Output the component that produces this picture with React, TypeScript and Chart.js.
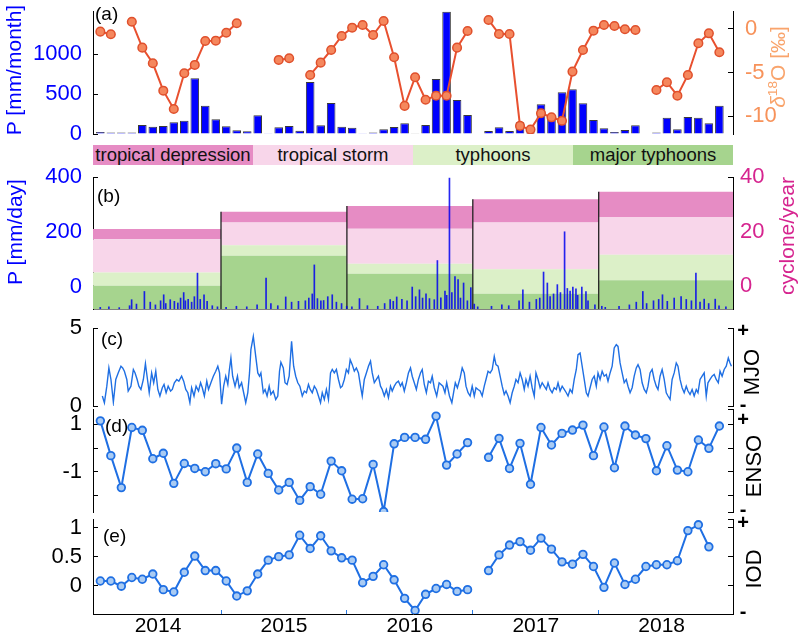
import { useEffect, useRef } from "react";
import { Chart, registerables } from "chart.js";

Chart.register(...registerables);

const FONT = "'Liberation Sans', Arial, Helvetica, sans-serif";
Chart.defaults.font.family = FONT;

// x axis in months since 1 Jan 2014
const X_MIN = -0.2;
const X_MAX = 60.8;
const DAYS_PER_MONTH = 365.25 / 12;
const YEAR_LABELS = ["2014", "2015", "2016", "2017", "2018"];
const YEAR_STARTS = [0, 12, 24, 36, 48];
const X_TICKS = [0, 6, 12, 18, 24, 30, 36, 42, 48, 54, 60];

// (a) monthly precipitation [mm/month] and d18O [permil], Jan 2014 .. Dec 2018
const P_MONTH = [
  25, 20, 20, 20, 113, 92, 100, 146, 167, 697,
  355, 184, 96, 46, 33, 234, 10, 84, 100, 41,
  651, 109, 388, 92, 79, 10, 20, 59, 88, 134,
  8, 113, 689, 1530, 426, 238, 0, 38, 84, 38,
  146, 20, 372, 217, 522, 559, 384, 175, 71, 25,
  50, 109, 5, 20, 204, 59, 213, 204, 134, 355,
];
const D18O = [
  -0.35, -0.65, null, 0.78, -2.17, -3.95, -7.07, -9.15, -5.09, -4.14,
  -1.41, -1.38, -0.47, 0.6, null, null, null, -3.57, -3.38, null,
  -5.28, -3.88, -2.44, -0.84, 0.1, 0.41, -0.73, 0.86, -3.27, -8.8,
  -5.54, -8.1, -7.64, -7.64, -2.17, -0.28, null, 0.98, -0.62, -0.62,
  -11.08, -11.5, -9.64, -10.1, -10.5, -4.9, -2.44, -0.24, 0.41, 0.29,
  -0.08, -0.16, null, -6.99, -6.11, -7.64, -5.28, -1.67, -0.54, -2.7,
];
const P_MONTH_TICKS = [0, 500, 1000];
const D18O_TICKS = [0, -5, -10];

// (b) daily precipitation events [day, mm/day] and cyclones per year
const P_DAY = [
  [15, 6], [40, 8], [70, 5], [100, 12], [106, 34], [120, 18], [143, 64], [160, 25], [175, 15], [190, 30],
  [199, 52], [205, 20], [218, 34], [230, 28], [240, 22], [248, 40], [257, 60], [262, 30], [270, 35], [280, 25],
  [288, 45], [297, 131], [305, 35], [316, 52], [325, 28], [340, 12], [355, 8],
  [380, 6], [410, 10], [440, 8], [470, 15], [496, 113], [510, 20], [530, 12], [553, 44], [570, 25], [590, 28],
  [610, 30], [620, 40], [630, 55], [636, 161], [645, 38], [655, 30], [663, 31], [675, 45], [688, 52], [700, 25],
  [715, 20], [730, 10],
  [745, 8], [767, 38], [790, 12], [820, 10], [840, 20], [856, 34], [865, 28], [875, 44], [890, 35], [905, 30],
  [920, 82], [930, 45], [941, 70], [950, 40], [960, 55], [970, 38], [984, 34], [993, 177], [1003, 41], [1015, 65],
  [1020, 50], [1028, 478], [1035, 60], [1044, 118], [1053, 107], [1060, 40], [1069, 95], [1080, 30], [1090, 78], [1100, 18],
  [1110, 8], [1150, 10], [1180, 15], [1200, 12], [1230, 30], [1241, 70], [1260, 25], [1280, 35], [1290, 40], [1301, 135],
  [1312, 95], [1320, 45], [1330, 55], [1341, 89], [1350, 60], [1362, 282], [1370, 75], [1378, 65], [1386, 82], [1395, 74],
  [1400, 50], [1412, 82], [1424, 64], [1430, 30], [1450, 15], [1470, 10],
  [1480, 6], [1520, 10], [1550, 15], [1570, 25], [1589, 64], [1600, 20], [1620, 30], [1635, 35], [1646, 52], [1660, 28],
  [1680, 40], [1700, 45], [1715, 35], [1730, 30], [1743, 131], [1755, 25], [1767, 36], [1780, 20], [1799, 36], [1810, 12],
  [1830, 8],
];
const P_DAY_MIN = -82;
const P_DAY_MAX = 400;
const P_DAY_TICKS = [0, 200, 400];
const CYC_MIN = -8.4;
const CYC_MAX = 40;
const CYC_TICKS = [0, 20, 40];
const CYC_NAMES = ["tropical depression", "tropical storm", "typhoons", "major typhoons"];
const CYC_MAJOR = [8.5, 19.5, 12.9, 5.6, 10.5];
const CYC_TYPHOON = [4.9, 3.9, 3.7, 9.0, 9.4];
const CYC_STORM = [12.2, 8.3, 12.8, 17.1, 13.8];
const CYC_DEPRESSION = [3.7, 4.0, 8.4, 8.5, 9.3];

// (c) MJO amplitude [day, value]
const MJO = [
  [21, 0.64], [27, 0.21], [34, 1.27], [40, 2.44], [46, 1.7], [53, 0.25], [60, 1.7], [67, 2.12], [75, 2.55], [80, 2.44],
  [85, 2.23], [92, 1.7], [96, 0.96], [104, 1.27], [111, 2.34], [116, 2.12], [122, 1.7], [127, 1.27], [133, 1.06], [140, 1.7],
  [146, 2.72], [152, 1.7], [157, 0.85], [164, 2.12], [170, 1.49], [176, 2.23], [182, 1.06], [188, 0.64], [195, 1.17], [200, 1.38],
  [206, 0.85], [212, 1.27], [219, 0.96], [224, 1.06], [230, 1.49], [237, 1.7], [243, 1.59], [251, 1.91], [257, 1.59], [263, 1.06],
  [269, 0.85], [275, 0.21], [280, 1.17], [287, 0.64], [293, 1.27], [300, 0.96], [306, 1.49], [311, 1.17], [317, 0.64], [324, 1.59],
  [329, 1.06], [336, 1.49], [343, 1.91], [350, 2.23], [356, 2.55], [361, 2.12], [367, 0.11], [373, 1.27], [379, 1.91], [385, 1.38],
  [389, 2.23], [394, 3.08], [399, 1.91], [406, 1.27], [413, 1.91], [418, 1.17], [425, 1.49], [431, 0.85], [437, 0.21], [443, 0.85],
  [448, 2.12], [452, 3.61], [459, 4.46], [466, 3.18], [472, 2.12], [477, 1.91], [481, 2.12], [488, 0.85], [493, 1.06], [499, 0.64],
  [505, 1.27], [510, 0.74], [517, 0.96], [524, 0.42], [530, 0.64], [535, 2.23], [539, 2.8], [546, 2.44], [551, 1.49], [557, 1.38],
  [563, 1.91], [570, 4.14], [576, 2.55], [582, 1.91], [588, 1.49], [594, 1.27], [601, 0.64], [607, 0.96], [613, 0.85], [619, 1.38],
  [624, 1.06], [630, 0.85], [636, 1.27], [642, 1.06], [648, 0.64], [654, 0.21], [659, 0.85], [665, 0.42], [671, 1.06], [677, 0.42],
  [683, 2.12], [688, 2.34], [694, 2.12], [700, 2.34], [706, 1.7], [712, 1.17], [717, 1.27], [723, 1.7], [729, 2.34], [735, 2.12],
  [740, 2.97], [746, 2.65], [752, 2.23], [758, 2.44], [764, 2.12], [770, 1.27], [775, 0.64], [781, 1.7], [787, 2.12], [793, 2.55],
  [799, 2.87], [804, 2.12], [810, 1.49], [816, 1.7], [822, 1.91], [828, 1.27], [833, 1.06], [839, 0.64], [845, 1.06], [851, 0.53],
  [857, 1.27], [862, 0.96], [868, 1.27], [874, 1.49], [880, 1.59], [886, 1.27], [891, 1.49], [897, 0.96], [903, 1.49], [909, 2.12],
  [915, 2.44], [920, 1.91], [926, 1.49], [932, 1.06], [938, 1.7], [944, 2.12], [949, 2.34], [955, 1.38], [961, 0.85], [967, 1.59],
  [973, 1.49], [978, 1.91], [984, 1.17], [991, 0.64], [998, 1.49], [1009, 1.27], [1015, 0.85], [1020, 1.49], [1028, 0.64], [1035, 0.21],
  [1040, 0.85], [1045, 1.49], [1051, 1.17], [1059, 1.8], [1065, 2.44], [1071, 2.12], [1076, 1.27], [1082, 0.85], [1088, 0.64], [1094, 1.27],
  [1100, 0.64], [1105, 1.17], [1111, 1.06], [1117, 0.96], [1123, 0.64], [1129, 1.27], [1134, 1.7], [1140, 2.23], [1146, 2.12], [1152, 2.34],
  [1158, 3.18], [1163, 2.65], [1169, 2.55], [1175, 1.91], [1181, 1.27], [1187, 0.74], [1192, 0.96], [1198, 0.64], [1204, 0.21], [1210, 0.85],
  [1216, 1.27], [1221, 1.7], [1227, 1.49], [1233, 2.12], [1239, 1.7], [1245, 1.06], [1250, 1.7], [1256, 1.27], [1262, 1.91], [1268, 1.17],
  [1274, 0.64], [1279, 2.12], [1285, 1.7], [1291, 1.17], [1297, 1.49], [1303, 1.27], [1309, 1.06], [1314, 1.49], [1320, 1.06], [1326, 0.85],
  [1332, 1.17], [1338, 1.06], [1343, 1.49], [1349, 0.96], [1355, 1.27], [1361, 1.06], [1367, 0.85], [1372, 0.64], [1378, 1.06], [1384, 0.85],
  [1390, 1.7], [1396, 2.34], [1401, 3.29], [1407, 3.4], [1413, 2.55], [1419, 1.7], [1425, 0.85], [1430, 0.64], [1436, 1.17], [1442, 1.7],
  [1448, 1.91], [1454, 1.27], [1459, 2.12], [1465, 1.7], [1471, 2.23], [1477, 1.91], [1483, 2.02], [1488, 1.59], [1494, 2.12], [1500, 2.55],
  [1506, 3.72], [1512, 3.93], [1517, 3.82], [1523, 2.76], [1529, 2.12], [1535, 1.49], [1541, 1.7], [1546, 1.27], [1552, 0.85], [1558, 1.17],
  [1564, 1.91], [1570, 2.44], [1575, 2.65], [1581, 2.34], [1587, 1.49], [1593, 1.06], [1599, 0.85], [1604, 1.27], [1610, 2.12], [1616, 2.34],
  [1622, 1.7], [1628, 1.27], [1633, 1.06], [1639, 1.91], [1645, 2.34], [1651, 1.7], [1657, 0.85], [1662, 0.64], [1668, 0.42], [1674, 1.7],
  [1680, 2.12], [1686, 2.76], [1691, 2.55], [1697, 1.7], [1703, 1.17], [1709, 0.85], [1715, 1.27], [1720, 0.96], [1726, 0.74], [1732, 1.06],
  [1738, 0.64], [1744, 1.06], [1749, 0.85], [1755, 1.7], [1761, 1.91], [1767, 2.12], [1773, 0.64], [1778, 1.49], [1784, 1.7], [1790, 1.91],
  [1796, 2.02], [1802, 1.7], [1808, 1.49], [1813, 2.23], [1819, 1.91], [1825, 2.34], [1831, 2.55], [1837, 3.08], [1842, 2.76], [1846, 2.55],
];
const MJO_TICKS = [0, 5];

// (d) ENSO and (e) IOD, monthly from Jan 2014
const ENSO = [
  1.15, -0.32, -1.67, 0.87, 0.75, -0.45, -0.22, -1.49, -0.65, -0.86,
  -1.0, -0.66, -0.88, 0.0, -1.45, -0.25, -1.07, -1.77, -1.45, -2.21,
  -1.63, -1.95, -0.55, -0.96, -2.16, -2.14, -0.69, -2.68, 0.18, 0.45,
  0.45, 0.37, 1.35, -0.72, -0.25, 0.23, null, -0.39, 0.41, -0.86,
  0.2, -1.53, 0.87, 0.13, 0.62, 0.76, 0.97, -0.32, 0.89, -0.83,
  0.93, 0.55, 0.4, -0.96, 0.1, -0.93, -1.0, 0.34, -0.01, 0.93,
];
const ENSO_TICKS = [1, 0, -1, -2];
const ENSO_LABELED = [1, -1];
const IOD = [
  0.08, 0.08, -0.01, 0.14, 0.11, 0.2, -0.07, -0.11, 0.23, 0.51,
  0.26, 0.26, 0.08, -0.18, -0.09, 0.2, 0.44, 0.5, 0.53, 0.87,
  0.64, 0.86, 0.6, 0.48, 0.44, 0.05, 0.16, 0.36, 0.1, -0.22,
  -0.43, -0.15, -0.05, 0.02, -0.1, -0.07, null, 0.26, 0.53, 0.7,
  0.76, 0.61, 0.82, 0.63, 0.41, 0.37, 0.54, 0.33, -0.03, 0.39,
  0.02, 0.11, 0.33, 0.36, 0.36, 0.43, 0.95, 1.05, 0.67,
];
const IOD_TICKS = [1, 0.5, 0];

const W = 800;
const PLOT_L = 93;
const PLOT_R = 733;
const PAD = 32; // room above/below each plot area for the tick labels

const BLUE = "#0000ff";
const ORANGE = "#f7925a";
const MAGENTA = "#d6248f";
const LINE_BLUE = "#1f6fe3";
const CYC_COLORS = ["#e68cc4", "#f8d6ea", "#dcf0c8", "#a6d48e"];

const monthly = (vals: (number | null)[]) => vals.map((v, i) => ({ x: i + 0.5, y: v }));

function yAxis(o: {
  position: "left" | "right";
  min: number;
  max: number;
  ticks: number[];
  color?: string;
  padding?: number;
  label?: (v: number) => string;
}) {
  const left = o.position === "left";
  return {
    type: "linear",
    position: o.position,
    min: o.min,
    max: o.max,
    afterFit: (s: any) => {
      s.width = left ? PLOT_L : W - PLOT_R;
    },
    afterBuildTicks: (s: any) => {
      s.ticks = o.ticks.map((value) => ({ value }));
    },
    border: { color: "#000", width: 1 },
    grid: { drawOnChartArea: false, drawTicks: true, tickLength: -5, color: "#000" },
    ticks: {
      color: o.color ?? "#000",
      font: { size: 22 },
      padding: o.padding ?? (left ? 16 : 17),
      autoSkip: false,
      callback: o.label ?? ((v: number) => String(v)),
    },
  };
}

// right-hand axis of panels (c)-(e): tick marks only, "+ / -" are drawn as text
const markAxis = (min: number, max: number, ticks: number[]) =>
  yAxis({ position: "right", min, max, ticks: [max, ...ticks, min], label: () => "" });

const hiddenX = { type: "linear", min: X_MIN, max: X_MAX, offset: false, display: false };

const baseOptions = (padTop: number, padBottom: number) => ({
  responsive: true,
  maintainAspectRatio: false,
  animation: false,
  events: [],
  layout: { padding: { top: padTop, bottom: padBottom, left: 0, right: 0 } },
  plugins: { legend: { display: false }, tooltip: { enabled: false } },
});

function makeA() {
  return {
    type: "bar",
    data: {
      datasets: [
        {
          type: "line",
          data: monthly(D18O),
          yAxisID: "yR",
          borderColor: "#e8502f",
          borderWidth: 2,
          pointRadius: 4.3,
          pointBackgroundColor: "#f5875d",
          pointBorderColor: "#e0502c",
          pointBorderWidth: 1.5,
          spanGaps: false,
        },
        {
          type: "bar",
          data: monthly(P_MONTH),
          yAxisID: "y",
          backgroundColor: BLUE,
          borderColor: "#3a3a3a",
          borderWidth: 1,
          barPercentage: 0.82,
          categoryPercentage: 1,
        },
      ],
    },
    options: {
      ...baseOptions(PAD, PAD),
      scales: {
        x: { ...hiddenX, afterBuildTicks: (s: any) => { s.ticks = [0, 12, 24, 36, 48, 60].map((value) => ({ value })); } },
        y: yAxis({ position: "left", min: 0, max: 1540, ticks: P_MONTH_TICKS, color: BLUE }),
        yR: yAxis({ position: "right", min: -12, max: 2, ticks: D18O_TICKS, color: ORANGE }),
      },
    },
  };
}

function makeB() {
  const layers = [CYC_MAJOR, CYC_TYPHOON, CYC_STORM, CYC_DEPRESSION];
  const tops: number[][] = [];
  layers.forEach((layer, k) => {
    tops.push(layer.map((v, i) => (k === 0 ? CYC_MIN : tops[k - 1][i]) + v));
  });
  const stepData = (levels: number[]) => [
    ...YEAR_STARTS.map((s, i) => ({ x: i === 0 ? X_MIN : s, y: levels[i] })),
    { x: X_MAX, y: levels[levels.length - 1] },
  ];
  const total = tops[tops.length - 1];
  const edges: any[] = [];
  YEAR_STARTS.forEach((s, k) => {
    if (k === 0) return;
    edges.push({ x: s, y: CYC_MIN }, { x: s, y: Math.max(total[k - 1], total[k]) }, { x: s, y: null });
  });
  const fillColors = [CYC_COLORS[3], CYC_COLORS[2], CYC_COLORS[1], CYC_COLORS[0]];
  return {
    type: "bar",
    data: {
      datasets: [
        {
          type: "bar",
          data: P_DAY.map(([d, mm]) => ({ x: d / DAYS_PER_MONTH, y: [P_DAY_MIN, P_DAY_MIN + mm] })),
          yAxisID: "y",
          backgroundColor: "rgba(0,0,240,0.85)",
          barThickness: 1,
          borderWidth: 0,
        },
        {
          type: "line",
          data: edges,
          yAxisID: "yR",
          borderColor: "#222",
          borderWidth: 1.3,
          pointRadius: 0,
          spanGaps: false,
        },
        ...tops.map((levels, k) => ({
          type: "line",
          data: stepData(levels),
          yAxisID: "yR",
          stepped: true,
          fill: k === 0 ? "start" : "-1",
          backgroundColor: fillColors[k],
          borderColor: "transparent",
          borderWidth: 0,
          pointRadius: 0,
        })),
      ],
    },
    options: {
      ...baseOptions(PAD, PAD),
      scales: {
        x: {
          type: "linear",
          min: X_MIN,
          max: X_MAX,
          offset: false,
          afterFit: (s: any) => {
            s.height = 0;
          },
          ticks: { display: false },
          grid: { display: false },
          border: { color: "#808080", width: 1 },
        },
        y: yAxis({ position: "left", min: P_DAY_MIN, max: P_DAY_MAX, ticks: P_DAY_TICKS, color: BLUE }),
        yR: yAxis({ position: "right", min: CYC_MIN, max: CYC_MAX, ticks: CYC_TICKS, color: MAGENTA, padding: 12 }),
      },
    },
  };
}

function makeC() {
  return {
    type: "line",
    data: {
      datasets: [
        {
          data: MJO.map(([d, v]) => ({ x: d / DAYS_PER_MONTH, y: v })),
          borderColor: LINE_BLUE,
          borderWidth: 1.4,
          pointRadius: 0,
        },
      ],
    },
    options: {
      ...baseOptions(PAD, PAD),
      scales: {
        x: hiddenX,
        y: yAxis({ position: "left", min: 0, max: 5, ticks: MJO_TICKS }),
        yR: markAxis(0, 5, []),
      },
    },
  };
}

const markerLine = (vals: (number | null)[]) => ({
  data: monthly(vals),
  borderColor: LINE_BLUE,
  borderWidth: 2,
  pointRadius: 3.8,
  pointBackgroundColor: "#a9cbf3",
  pointBorderColor: LINE_BLUE,
  pointBorderWidth: 1.8,
  spanGaps: false,
});

function makeD() {
  return {
    type: "line",
    data: { datasets: [markerLine(ENSO)] },
    options: {
      ...baseOptions(PAD, PAD),
      scales: {
        x: hiddenX,
        y: yAxis({
          position: "left",
          min: -2.7,
          max: 1.65,
          ticks: ENSO_TICKS,
          label: (v) => (ENSO_LABELED.includes(v) ? String(v) : ""),
        }),
        yR: markAxis(-2.7, 1.65, ENSO_TICKS),
      },
    },
  };
}

function makeE() {
  return {
    type: "line",
    data: { datasets: [markerLine(IOD)] },
    options: {
      ...baseOptions(PAD, 3),
      scales: {
        x: {
          type: "linear",
          min: X_MIN,
          max: X_MAX,
          offset: false,
          afterBuildTicks: (s: any) => {
            s.ticks = X_TICKS.map((value) => ({ value }));
          },
          afterFit: (s: any) => {
            s.height = 29;
          },
          border: { color: "#000", width: 1 },
          grid: {
            drawOnChartArea: false,
            drawTicks: true,
            tickLength: -4,
            color: (ctx: any) => {
              const v = ctx.tick ? ctx.tick.value : 0;
              return v % 12 === 0 && v > 0 && v < 60 ? "#2a7be4" : "transparent";
            },
          },
          ticks: {
            color: "#000",
            font: { size: 21 },
            padding: 4,
            autoSkip: false,
            maxRotation: 0,
            callback: (v: number) => (v % 12 === 6 ? YEAR_LABELS[(v - 6) / 12] : ""),
          },
        },
        y: yAxis({ position: "left", min: -0.49, max: 1.15, ticks: IOD_TICKS }),
        yR: markAxis(-0.49, 1.15, IOD_TICKS),
      },
    },
  };
}

function Panel({ top, height, make }: { top: number; height: number; make: () => any }) {
  const ref = useRef<HTMLCanvasElement | null>(null);
  useEffect(() => {
    if (!ref.current) return;
    const chart = new Chart(ref.current, make());
    return () => {
      chart.destroy();
    };
  }, [make]);
  return (
    <div style={{ position: "absolute", left: 0, top, width: W, height }}>
      <canvas ref={ref} />
    </div>
  );
}

function VLabel({ x, y, color, size = 21, children }: { x: number; y: number; color: string; size?: number; children: any }) {
  return (
    <div
      style={{
        position: "absolute",
        left: x,
        top: y,
        transform: "translate(-50%, -50%) rotate(-90deg)",
        whiteSpace: "nowrap",
        color,
        fontSize: size,
        lineHeight: 1,
      }}
    >
      {children}
    </div>
  );
}

function Tag({ x, y, text }: { x: number; y: number; text: string }) {
  return (
    <div style={{ position: "absolute", left: x, top: y, fontSize: 19, lineHeight: 1, color: "#000" }}>{text}</div>
  );
}

function Sign({ y, text }: { y: number; text: string }) {
  return (
    <div
      style={{
        position: "absolute",
        left: 743,
        top: y,
        transform: "translate(-50%, -50%)",
        fontSize: 20,
        fontWeight: "bold",
        lineHeight: 1,
        color: "#000",
      }}
    >
      {text}
    </div>
  );
}

// plot areas: (a) 11-134, (b) 177-309, (c) 328-406, (d) 409-512, (e) 519-614
export default function App() {
  const boxW = (PLOT_R - PLOT_L) / CYC_NAMES.length;
  return (
    <div
      style={{
        position: "fixed",
        left: 0,
        top: 0,
        width: W,
        height: 643,
        background: "#fff",
        overflow: "hidden",
        fontFamily: FONT,
      }}
    >
      {CYC_NAMES.map((name, k) => (
        <div
          key={name}
          style={{
            position: "absolute",
            left: PLOT_L + k * boxW,
            top: 145,
            width: boxW,
            height: 20,
            lineHeight: "20px",
            background: CYC_COLORS[k],
            textAlign: "center",
            fontSize: 18.5,
            color: "#111",
          }}
        >
          {name}
        </div>
      ))}
      <Panel top={11 - PAD} height={123 + 2 * PAD} make={makeA} />
      <Panel top={177 - PAD} height={132 + 2 * PAD} make={makeB} />
      <Panel top={328 - PAD} height={78 + 2 * PAD} make={makeC} />
      <Panel top={409 - PAD} height={103 + 2 * PAD} make={makeD} />
      <Panel top={519 - PAD} height={PAD + 95 + 29 + 3} make={makeE} />

      <Tag x={95} y={4} text="(a)" />
      <Tag x={97} y={186} text="(b)" />
      <Tag x={101} y={329} text="(c)" />
      <Tag x={105} y={416} text="(d)" />
      <Tag x={103} y={526} text="(e)" />

      <Sign y={330} text="+" />
      <Sign y={404} text="-" />
      <Sign y={419} text="+" />
      <Sign y={509} text="-" />
      <Sign y={522} text="+" />
      <Sign y={611} text="-" />

      <VLabel x={13} y={70} color={BLUE}>P [mm/month]</VLabel>
      <VLabel x={14} y={232} color={BLUE}>P [mm/day]</VLabel>
      <VLabel x={777} y={67} color="#f9a46c">
        <span style={{ fontStyle: "italic" }}>δ</span>
        <sup style={{ fontSize: "0.65em" }}>18</sup>O [‰]
      </VLabel>
      <VLabel x={786} y={236} color={MAGENTA}>cyclone/year</VLabel>
      <VLabel x={752} y={372} color="#000" size={22}>MJO</VLabel>
      <VLabel x={754} y={466} color="#000" size={22}>ENSO</VLabel>
      <VLabel x={754} y={569} color="#000" size={22}>IOD</VLabel>
    </div>
  );
}
